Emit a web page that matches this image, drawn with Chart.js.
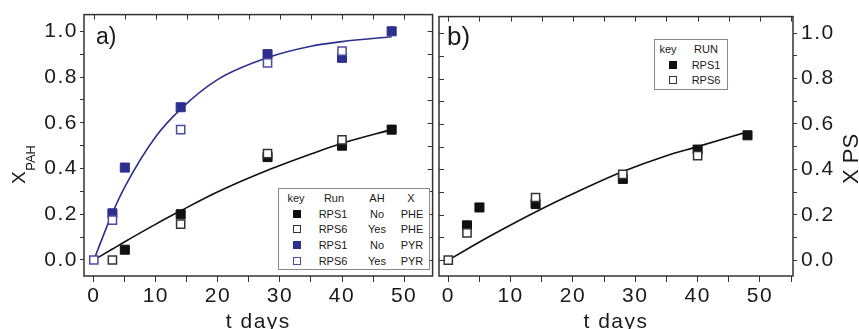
<!DOCTYPE html>
<html>
<head>
<meta charset="utf-8">
<script src="https://cdn.jsdelivr.net/npm/chart.js@4"></script>
<style>
  body { margin: 0; background: #fff; font-family: "Liberation Sans", Arial, sans-serif; color: #1a1a1a; }
  #wrap { position: relative; width: 859px; height: 329px; overflow: hidden; }
  .box { position: absolute; top: 0; height: 329px; }
  .lg { position: absolute; border: 1px solid #888; background: #fff; }
  .t { position: absolute; font-size: 11px; line-height: 11px; transform: translate(-50%, -50%); white-space: nowrap; }
  .m { position: absolute; width: 8px; height: 8px; transform: translate(-50%, -50%); box-sizing: border-box; }
  .lbl { position: absolute; line-height: 1; }
</style>
</head>
<body>
<div id="wrap">
  <div class="box" style="left:0;width:440px"><canvas id="c1"></canvas></div>
  <div class="box" style="left:429px;width:430px"><canvas id="c2"></canvas></div>
  <div class="lbl" style="left:96px;top:25px;font-size:23px">a)</div>
  <div class="lbl" style="left:447px;top:23px;font-size:26px">b)</div>
  <div id="legA"></div>
  <div id="legB"></div>
</div>
<script>
// panel a) : PAH conversion
const pheRps1T = [5, 14, 28, 40, 48];
const pheRps1X = [0.045, 0.20, 0.45, 0.50, 0.57];
const pheRps6T = [3, 14, 28, 40];
const pheRps6X = [0.0, 0.157, 0.465, 0.525];
const pyrRps1T = [3, 5, 14, 28, 40, 48];
const pyrRps1X = [0.204, 0.404, 0.668, 0.90, 0.884, 1.0];
const pyrRps6T = [0, 3, 14, 28, 40];
const pyrRps6X = [0.0, 0.174, 0.57, 0.862, 0.913];

// fitted curves
const fitT = [0, 3, 5, 10, 14, 20, 28, 35, 40, 48];
const pyrFit = [0, 0.205, 0.32, 0.54, 0.66, 0.79, 0.885, 0.935, 0.955, 0.976];
const pheFit = [0, 0.048, 0.08, 0.157, 0.215, 0.298, 0.392, 0.463, 0.51, 0.57];

// panel b) : PS conversion
const psRps1T = [3, 5, 14, 28, 40, 48];
const psRps1X = [0.153, 0.232, 0.247, 0.358, 0.487, 0.55];
const psRps6T = [0, 3, 14, 28, 40];
const psRps6X = [0.0, 0.12, 0.276, 0.378, 0.46];
const psFit = [0, 0.048, 0.08, 0.155, 0.212, 0.292, 0.39, 0.46, 0.5, 0.565];

const xTicks = [0, 10, 20, 30, 40, 50];
const yTicks = [0.0, 0.2, 0.4, 0.6, 0.8, 1.0];

const BLUE = '#2d2f8e';
const BLUE_OPEN = '#4b4ba6';
const BLACK = '#111';
const AXIS = '#333';
const FONT = '"Liberation Sans", Arial, sans-serif';

const pts = (t, v) => t.map((x, i) => ({ x: x, y: v[i] }));

function filled(data, color) {
  return { data, pointStyle: 'rect', pointRadius: 6.4, pointHoverRadius: 6.4, backgroundColor: color,
    borderColor: color, borderWidth: 1, showLine: false, order: 1 };
}
function open(data, color) {
  return { data, pointStyle: 'rect', pointRadius: 5.8, pointHoverRadius: 5.8, backgroundColor: '#fff',
    borderColor: color, borderWidth: 1.5, showLine: false, order: 0 };
}
function fit(data, color) {
  return { data, showLine: true, pointRadius: 0, borderColor: color, borderWidth: 1.6,
    cubicInterpolationMode: 'monotone', fill: false, order: 2 };
}

// wider spacing of the tick digits, as in the scanned figure
const spacing = { id: 'spacing', beforeDraw(chart) { chart.ctx.letterSpacing = '1.5px'; } };

// frame round the plot and the inner tick marks
function framePlugin(innerSide) {
  return {
    id: 'frame',
    afterDatasetsDraw(chart) {
      const { ctx, chartArea: a, scales } = chart;
      ctx.save();
      ctx.strokeStyle = AXIS;
      ctx.lineWidth = 1;
      ctx.beginPath();
      scales.x.ticks.forEach(tk => {
        const px = Math.round(scales.x.getPixelForValue(tk.value)) + 0.5;
        ctx.moveTo(px, a.top);
        ctx.lineTo(px, a.top + 5);
      });
      scales.y.ticks.forEach(tk => {
        const py = Math.round(scales.y.getPixelForValue(tk.value)) + 0.5;
        if (innerSide === 'right') { ctx.moveTo(a.right, py); ctx.lineTo(a.right - 5, py); }
        else { ctx.moveTo(a.left, py); ctx.lineTo(a.left + 5, py); }
      });
      ctx.stroke();
      ctx.lineWidth = 1.5;
      ctx.strokeRect(a.left, a.top, a.right - a.left, a.bottom - a.top);
      ctx.restore();
    }
  };
}

function yTitlePlugin(draw) {
  return { id: 'ytitle', afterDraw(chart) {
    const ctx = chart.ctx; ctx.save(); ctx.letterSpacing = '0px'; ctx.fillStyle = '#1a1a1a'; draw(ctx); ctx.restore();
  } };
}

function xScale(min, max) {
  return {
    type: 'linear', position: 'bottom', min, max,
    afterFit: s => { s.height = 53; },
    grid: { drawOnChartArea: false, drawTicks: true, tickLength: 6, color: AXIS, tickWidth: 1 },
    border: { display: false },
    ticks: {
      stepSize: 5, includeBounds: false, padding: 2, color: '#1a1a1a', maxRotation: 0, autoSkip: false,
      font: { family: FONT, size: 21 },
      callback: v => xTicks.includes(v) ? String(v) : ''
    },
    title: { display: true, text: 't days', color: '#1a1a1a', font: { family: FONT, size: 21 }, padding: { top: 0, bottom: -6 } }
  };
}

function yScale(position, width) {
  return {
    type: 'linear', position, min: -0.07, max: 1.073,
    afterFit: s => { s.width = width; },
    grid: { drawOnChartArea: false, drawTicks: true, tickLength: 4, color: AXIS, tickWidth: 1 },
    border: { display: false },
    ticks: {
      stepSize: 0.1, includeBounds: false, padding: position === 'left' ? 2 : 4, color: '#1a1a1a', autoSkip: false,
      font: { family: FONT, size: 21 },
      callback: v => {
        const r = Math.round(v * 10) / 10;
        return yTicks.some(t => Math.abs(t - r) < 1e-6) && Math.abs(v - r) < 1e-6 ? r.toFixed(1) : '';
      }
    }
  };
}

new Chart(document.getElementById('c1'), {
  type: 'scatter',
  data: {
    datasets: [
      open(pts(pyrRps6T, pyrRps6X), BLUE_OPEN),
      open(pts(pheRps6T, pheRps6X), '#333'),
      filled(pts(pyrRps1T, pyrRps1X), BLUE),
      filled(pts(pheRps1T, pheRps1X), BLACK),
      fit(pts(fitT, pyrFit), BLUE),
      fit(pts(fitT, pheFit), BLACK)
    ]
  },
  options: {
    responsive: true, maintainAspectRatio: false, animation: false,
    layout: { padding: { top: 14, right: 1, left: 0, bottom: 0 } },
    plugins: { legend: { display: false }, tooltip: { enabled: false } },
    scales: { x: xScale(-1.58, 54.6), y: yScale('left', 84) }
  },
  plugins: [spacing, framePlugin('right'), yTitlePlugin(ctx => {
    ctx.translate(25, 184);
    ctx.rotate(-Math.PI / 2);
    ctx.font = '19px ' + FONT;
    ctx.textBaseline = 'alphabetic';
    ctx.fillText('X', 0, 0);
    const w = ctx.measureText('X').width;
    ctx.font = '13px ' + FONT;
    ctx.fillText('PAH', w + 0.5, 9.5);
  })]
});

new Chart(document.getElementById('c2'), {
  type: 'scatter',
  data: {
    datasets: [
      open(pts(psRps6T, psRps6X), '#333'),
      filled(pts(psRps1T, psRps1X), BLACK),
      fit(pts(fitT, psFit), BLACK)
    ]
  },
  options: {
    responsive: true, maintainAspectRatio: false, animation: false,
    layout: { padding: { top: 14, right: 0, left: 10, bottom: 0 } },
    plugins: { legend: { display: false }, tooltip: { enabled: false } },
    scales: { x: xScale(-1.49, 55.3), y: yScale('right', 66) }
  },
  plugins: [spacing, framePlugin('left'), yTitlePlugin(ctx => {
    ctx.translate(429, 159);
    ctx.rotate(-Math.PI / 2);
    ctx.font = '22px ' + FONT;
    ctx.textAlign = 'center';
    ctx.textBaseline = 'alphabetic';
    ctx.fillText('X PS', 0, 0);
  })]
});

// legends as html
function legend(el, box, rows) {
  let h = `<div class="lg" style="left:${box[0]}px;top:${box[1]}px;width:${box[2]}px;height:${box[3]}px"></div>`;
  rows.forEach(r => {
    if (r.marker) {
      const st = r.marker.fill ? `background:${r.marker.color}` : `background:#fff;border:1.5px solid ${r.marker.color}`;
      h += `<div class="m" style="left:${r.marker.x}px;top:${r.y}px;${st}"></div>`;
    }
    r.cells.forEach(c => { h += `<div class="t" style="left:${c[0]}px;top:${r.y}px">${c[1]}</div>`; });
  });
  document.getElementById(el).innerHTML = h;
}

legend('legA', [278, 188, 150, 80], [
  { y: 198, cells: [[296, 'key'], [334, 'Run'], [377, 'AH'], [411, 'X']] },
  { y: 213.5, marker: { x: 297, color: BLACK, fill: true }, cells: [[333, 'RPS1'], [377, 'No'], [412, 'PHE']] },
  { y: 229, marker: { x: 297, color: '#333', fill: false }, cells: [[333, 'RPS6'], [377, 'Yes'], [412, 'PHE']] },
  { y: 245, marker: { x: 297, color: BLUE, fill: true }, cells: [[333, 'RPS1'], [377, 'No'], [412, 'PYR']] },
  { y: 260.5, marker: { x: 297, color: BLUE_OPEN, fill: false }, cells: [[333, 'RPS6'], [377, 'Yes'], [412, 'PYR']] }
]);

legend('legB', [654, 39, 72, 49], [
  { y: 49, cells: [[668, 'key'], [706, 'RUN']] },
  { y: 65, marker: { x: 673, color: BLACK, fill: true }, cells: [[706, 'RPS1']] },
  { y: 80, marker: { x: 673, color: '#333', fill: false }, cells: [[706, 'RPS6']] }
]);
</script>
</body>
</html>
